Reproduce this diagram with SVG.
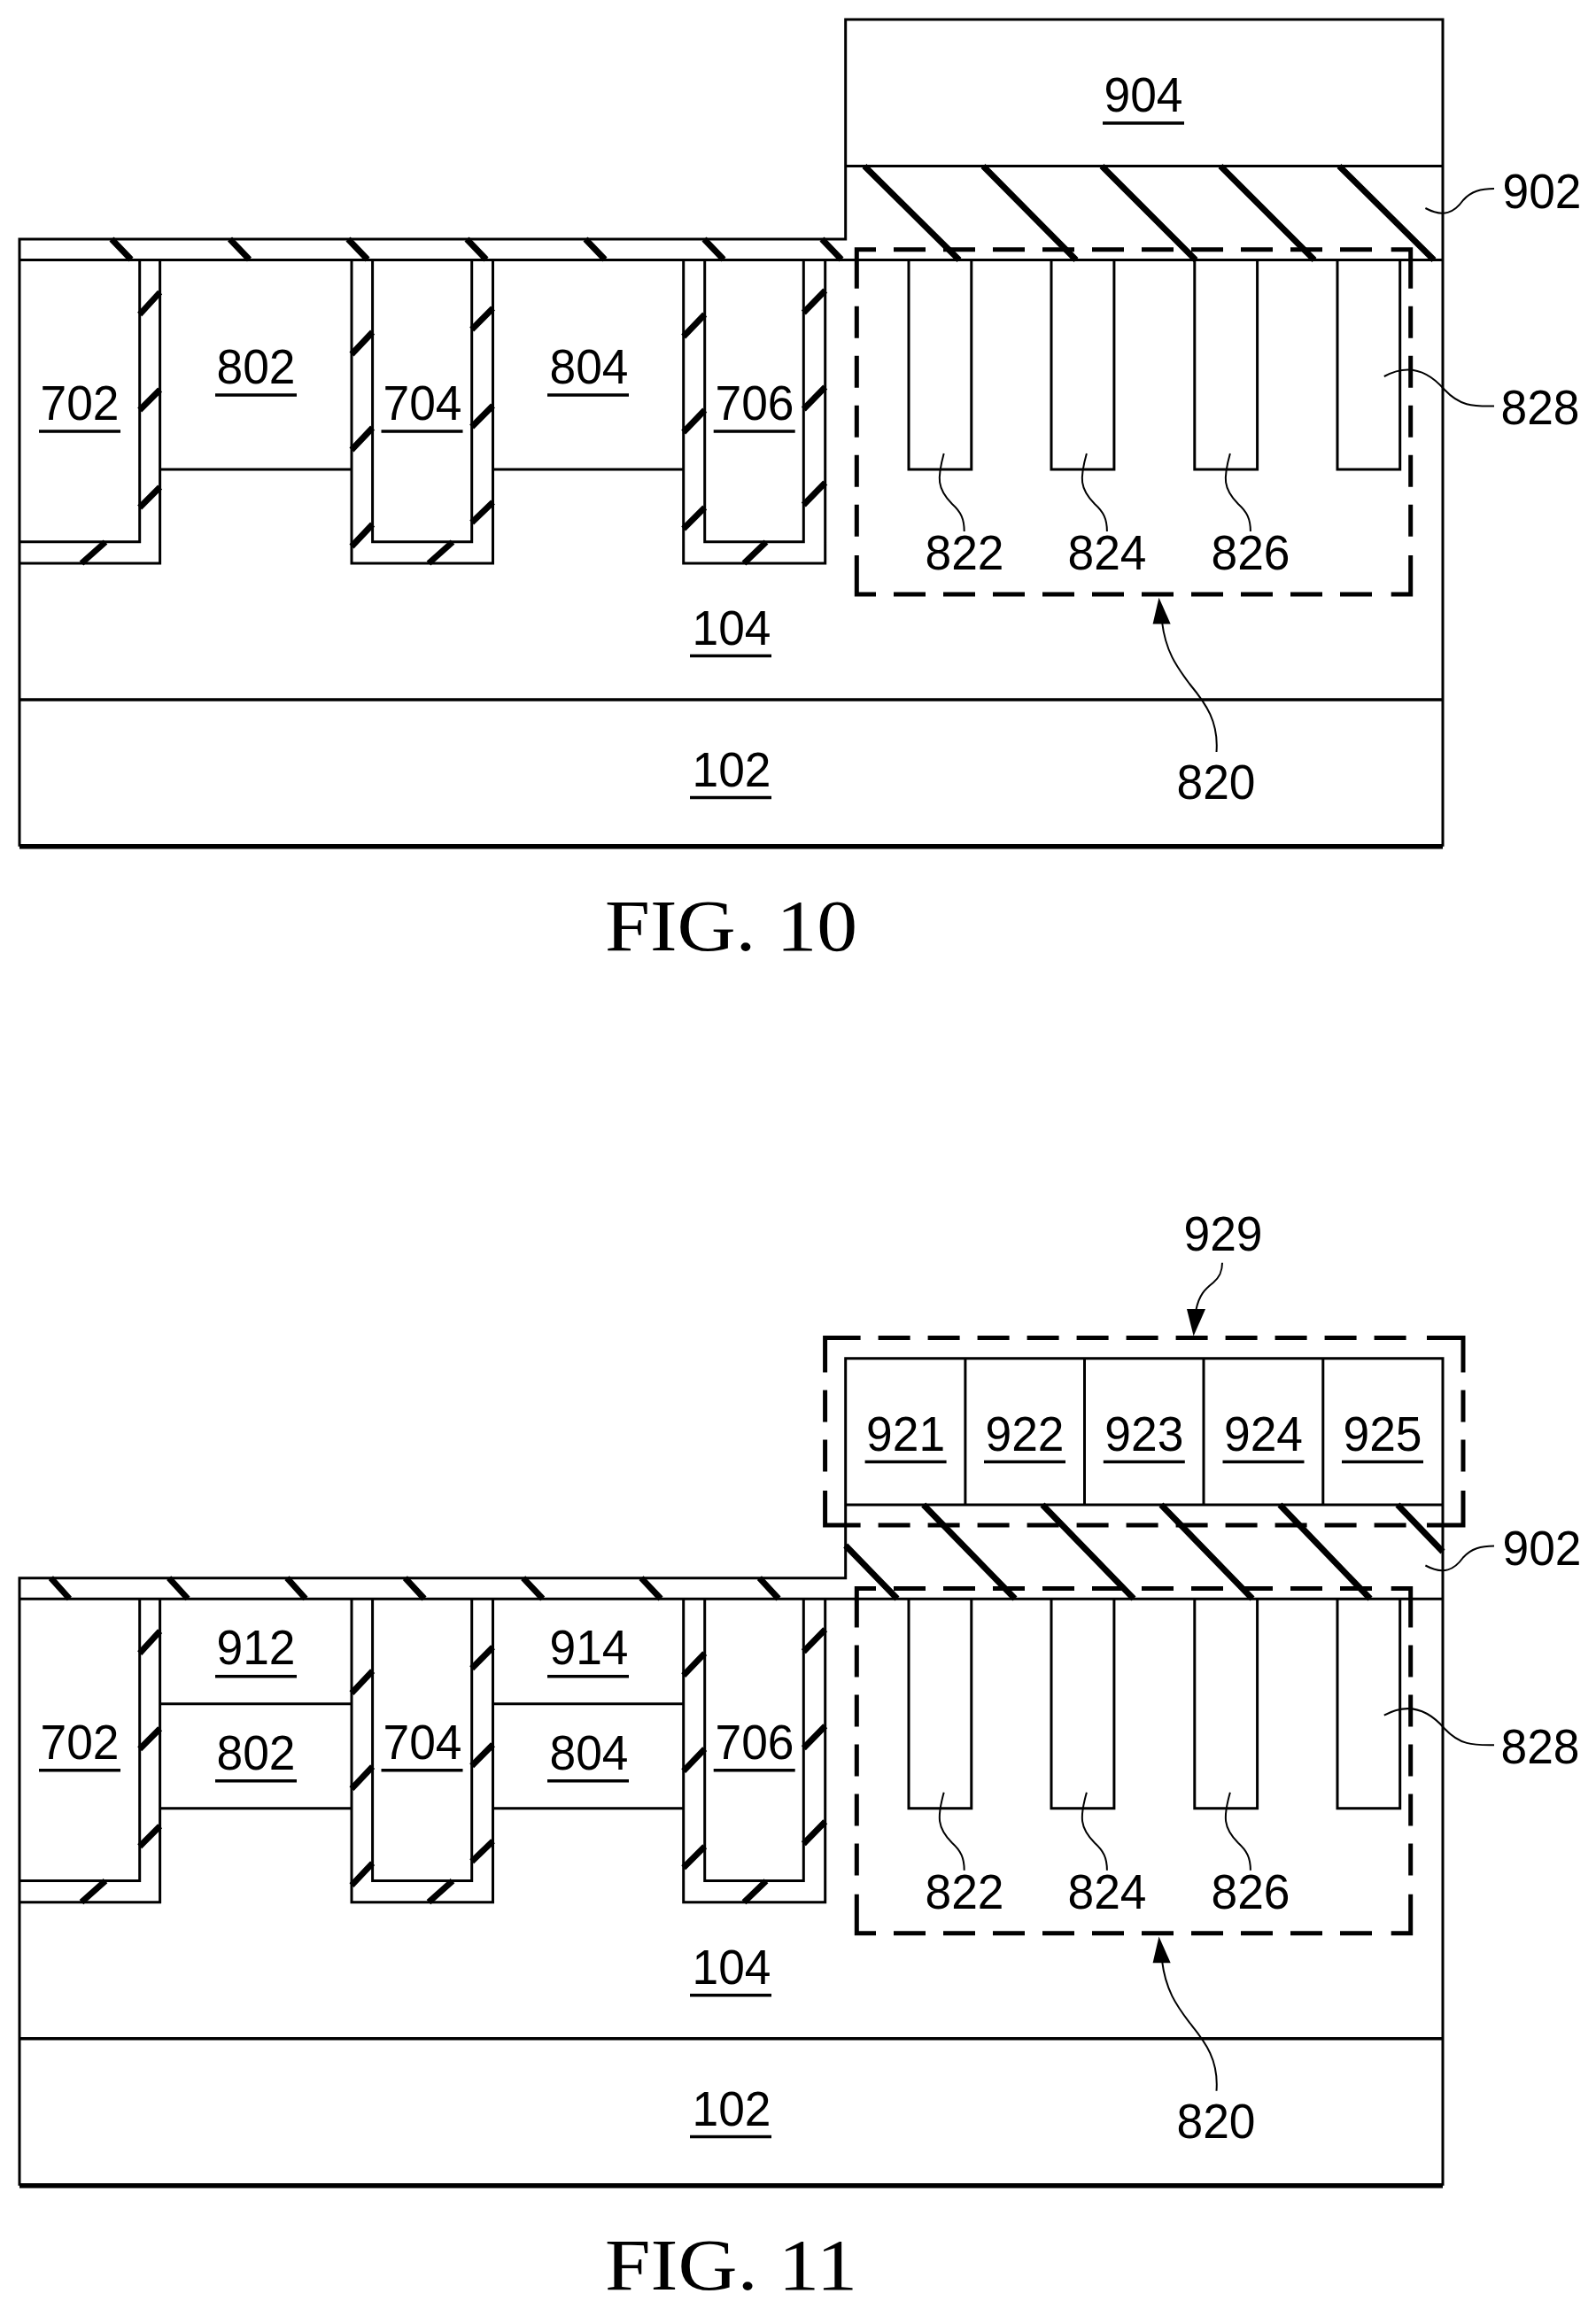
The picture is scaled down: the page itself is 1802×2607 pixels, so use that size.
<svg xmlns="http://www.w3.org/2000/svg" xmlns:xlink="http://www.w3.org/1999/xlink" width="1802" height="2607" viewBox="0 0 1802 2607">
<style>
.l{fill:none;stroke:#000;stroke-width:3}
.b{fill:none;stroke:#000;stroke-width:5.5}
.h{fill:none;stroke:#000;stroke-width:7}
.d{fill:none;stroke:#000;stroke-width:5}
.dd{fill:none;stroke:#000;stroke-width:5;stroke-dasharray:36 20}
.c{fill:none;stroke:#000;stroke-width:2}
.u{fill:none;stroke:#000;stroke-width:3.5}
.a{fill:#000;stroke:none}
text{fill:#000;text-anchor:middle;font-family:"Liberation Sans",Arial,sans-serif;font-size:56px}
text.f{font-family:"Liberation Serif","Times New Roman",serif;font-size:82px}
</style>
<defs>
<g id="trenches">
<path class="l" d="M157.7 293.5V611.7H22M180.6 293.5V636H22M420.6 293.5V611.7H532.7V293.5M397 293.5V636H556.5V293.5M795.7 293.5V611.7H907.3V293.5M771.7 293.5V636H931.7V293.5M180.6 530H397M556.5 530H771.7"/>
<path class="h" d="M157.7 355L180.6 330M157.7 463L180.6 440M157.7 573L180.6 550M92 636L119 612M397 400L420.6 375M397 508L420.6 483M397 617L420.6 592M532.7 372L556.5 348M532.7 482L556.5 458M532.7 590L556.5 567M484 636L511 612M771.7 380L795.7 355M771.7 488L795.7 463M771.7 597L795.7 573M907.3 353L931.7 328M907.3 462L931.7 437M907.3 570L931.7 545M840 636L865 612"/>
</g>
<g id="teeth">
<path class="l" d="M1026 293.5V530H1096.8V293.5M1187 293.5V530H1257.9V293.5M1348.8 293.5V530H1419.6V293.5M1510 293.5V530H1580.7V293.5"/>
<path class="d" d="M967.3 325.7V281.7H989M1570.7 281.7H1592.7V325.7M1592.7 627V671H1570.7M989 671H967.3V627"/>
<path class="dd" d="M1009 281.7H1551M1009 671H1551M967.3 345.7V607M1592.7 345.7V607"/>
<path class="c" d="M1065.7 512C1058 540 1058 552 1075 569C1085 578 1088.7 586 1088.7 600"/>
<path class="c" d="M1226.9 512C1219 540 1219 552 1236 569C1246 578 1249.9 586 1249.9 600"/>
<path class="c" d="M1388.9 512C1381 540 1381 552 1398 569C1408 578 1411.9 586 1411.9 600"/>
<path class="c" d="M1562.8 425C1590 410 1612 418 1631 440C1648 458 1662 459 1687 458.5"/>
<path class="c" d="M1312 702C1316 735 1328 752 1343 772C1362 795 1376 815 1373.5 849"/>
<path class="a" d="M1308.5 674.7L1301.6 704.5H1321.7Z"/>
</g>
<path id="lead902" class="c" d="M1609.4 235C1630 246 1642 240 1652 226C1661 216 1672 213 1687 213"/>
</defs>

<g id="fig10">
<path class="l" d="M22 955.7V270H954.7V22H1629V955.7M954.7 187.5H1629M22 293.5H1629"/>
<path class="u" d="M22 790H1629"/>
<path class="b" d="M22 955.7H1629"/>
<path class="h" d="M126 270L148 293M259.5 270L281.5 293M393 270L415 293M527 270L549 293M661 270L683 293M795 270L817 293M928 270L950 293"/>
<path class="h" d="M976 187.5L1083 293.5M1110 187.5L1215 293.5M1244 187.5L1350 293.5M1378 187.5L1484 293.5M1512 187.5L1619 293.5"/>
<use xlink:href="#trenches" href="#trenches"/>
<use xlink:href="#teeth" href="#teeth"/>
<use xlink:href="#lead902" href="#lead902"/>
<text textLength="89" lengthAdjust="spacingAndGlyphs" x="1291" y="126">904</text>
<text textLength="89" lengthAdjust="spacingAndGlyphs" x="1741" y="235">902</text>
<text textLength="89" lengthAdjust="spacingAndGlyphs" x="1739" y="479">828</text>
<text textLength="89" lengthAdjust="spacingAndGlyphs" x="1089" y="643">822</text>
<text textLength="89" lengthAdjust="spacingAndGlyphs" x="1250" y="643">824</text>
<text textLength="89" lengthAdjust="spacingAndGlyphs" x="1412" y="643">826</text>
<text textLength="89" lengthAdjust="spacingAndGlyphs" x="90" y="474">702</text>
<text textLength="89" lengthAdjust="spacingAndGlyphs" x="289" y="433">802</text>
<text textLength="89" lengthAdjust="spacingAndGlyphs" x="477" y="474">704</text>
<text textLength="89" lengthAdjust="spacingAndGlyphs" x="665" y="433">804</text>
<text textLength="89" lengthAdjust="spacingAndGlyphs" x="852" y="474">706</text>
<text textLength="89" lengthAdjust="spacingAndGlyphs" x="826" y="728">104</text>
<text textLength="89" lengthAdjust="spacingAndGlyphs" x="826" y="888">102</text>
<text textLength="89" lengthAdjust="spacingAndGlyphs" x="1373" y="902">820</text>
<text class="f" textLength="285" lengthAdjust="spacingAndGlyphs" x="825.5" y="1073">FIG. 10</text>
<path class="u" d="M1245 139H1337M44 487H136M243 446H335M430.5 487H522.5M618 446H710M805.7 487H897.7M779 740.5H871M779 900.5H871"/>
</g>

<g id="fig11">
<path class="l" d="M22 2467.7V1781.7H954.7V1533.7H1629V2467.7M954.7 1699H1629M22 1805.2H1629M1089.9 1533.7V1699M1224.5 1533.7V1699M1359 1533.7V1699M1493.8 1533.7V1699M180.6 1923.7H397M556.5 1923.7H771.7"/>
<path class="u" d="M22 2301.7H1629"/>
<path class="b" d="M22 2467.7H1629"/>
<path class="h" d="M57.4 1781.7L78.4 1805M190.7 1781.7L212 1805M324 1781.7L345 1805M457.4 1781.7L479 1805M590.7 1781.7L612.7 1805M724 1781.7L746 1805M857.4 1781.7L879 1805"/>
<path class="h" d="M1042.7 1699L1146 1805M1177 1699L1280 1805M1311 1699L1414 1805M1445 1699L1547 1805M1578 1699L1629 1752M954.7 1745L1013 1805"/>
<use xlink:href="#trenches" href="#trenches" transform="translate(0 1511.7)"/>
<use xlink:href="#teeth" href="#teeth" transform="translate(0 1511.7)"/>
<use xlink:href="#lead902" href="#lead902" transform="translate(0 1532.5)"/>
<path class="d" d="M931.6 1549.4V1510.4H971.6M1611 1510.4H1652V1549.4M1652 1683V1722H1611M971.6 1722H931.6V1683"/>
<path class="dd" d="M991.6 1510.4H1591M991.6 1722H1591M931.6 1569.4V1663M1652 1569.4V1663"/>
<path class="c" d="M1350.5 1478.6C1354 1462 1360 1456 1370 1448C1377 1442 1380 1436 1380 1425.8"/>
<path class="a" d="M1347.6 1508.5L1340 1478H1361Z"/>
<text textLength="89" lengthAdjust="spacingAndGlyphs" x="1381" y="1411.7">929</text>
<text textLength="89" lengthAdjust="spacingAndGlyphs" x="1022.6" y="1637.5">921</text>
<text textLength="89" lengthAdjust="spacingAndGlyphs" x="1157" y="1637.5">922</text>
<text textLength="89" lengthAdjust="spacingAndGlyphs" x="1291.8" y="1637.5">923</text>
<text textLength="89" lengthAdjust="spacingAndGlyphs" x="1426.5" y="1637.5">924</text>
<text textLength="89" lengthAdjust="spacingAndGlyphs" x="1561" y="1637.5">925</text>
<text textLength="89" lengthAdjust="spacingAndGlyphs" x="1741" y="1767">902</text>
<text textLength="89" lengthAdjust="spacingAndGlyphs" x="1739" y="1990.5">828</text>
<text textLength="89" lengthAdjust="spacingAndGlyphs" x="1089" y="2155">822</text>
<text textLength="89" lengthAdjust="spacingAndGlyphs" x="1250" y="2155">824</text>
<text textLength="89" lengthAdjust="spacingAndGlyphs" x="1412" y="2155">826</text>
<text textLength="89" lengthAdjust="spacingAndGlyphs" x="90" y="1985.7">702</text>
<text textLength="89" lengthAdjust="spacingAndGlyphs" x="289" y="1879">912</text>
<text textLength="89" lengthAdjust="spacingAndGlyphs" x="289" y="1997.5">802</text>
<text textLength="89" lengthAdjust="spacingAndGlyphs" x="477" y="1985.7">704</text>
<text textLength="89" lengthAdjust="spacingAndGlyphs" x="665" y="1879">914</text>
<text textLength="89" lengthAdjust="spacingAndGlyphs" x="665" y="1997.5">804</text>
<text textLength="89" lengthAdjust="spacingAndGlyphs" x="852" y="1985.7">706</text>
<text textLength="89" lengthAdjust="spacingAndGlyphs" x="826" y="2240">104</text>
<text textLength="89" lengthAdjust="spacingAndGlyphs" x="826" y="2400">102</text>
<text textLength="89" lengthAdjust="spacingAndGlyphs" x="1373" y="2414">820</text>
<text class="f" textLength="285" lengthAdjust="spacingAndGlyphs" x="825.5" y="2585">FIG. 11</text>
<path class="u" d="M976.6 1650.5H1068.6M1111 1650.5H1203M1245.8 1650.5H1337.8M1380.5 1650.5H1472.5M1515 1650.5H1607M44 1998.7H136M243 1892.7H335M243 2010.7H335M430.5 1998.7H522.5M618 1892.7H710M618 2010.7H710M805.7 1998.7H897.7M779 2252.7H871M779 2412.5H871"/>
</g>
</svg>
